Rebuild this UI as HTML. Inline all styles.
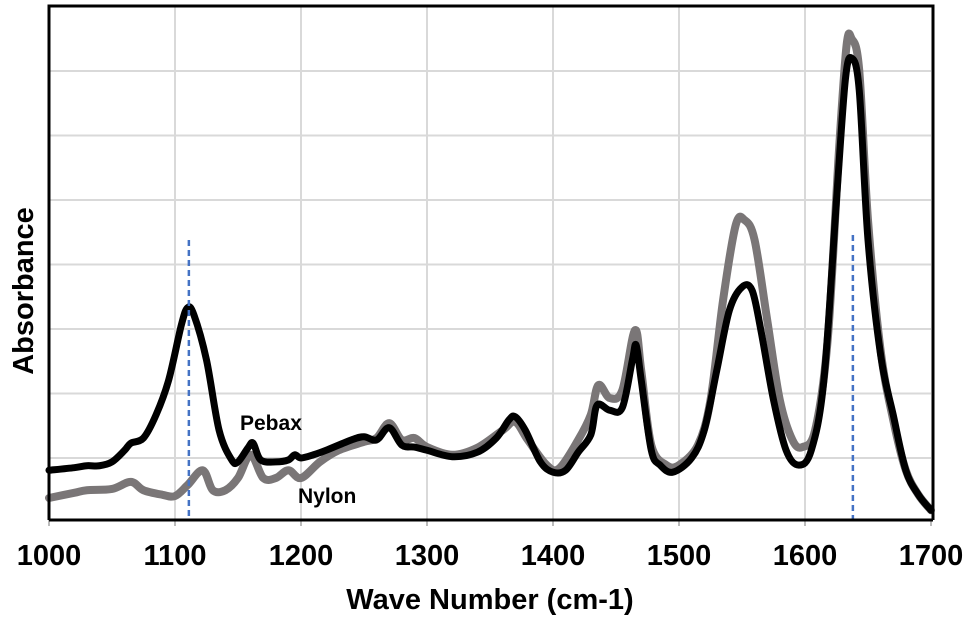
<!DOCTYPE html>
<html><head><meta charset="utf-8"><style>
body{margin:0;background:#fff}
svg{display:block;font-family:"Liberation Sans",Arial,sans-serif}
</style></head><body>
<svg id="chart" width="972" height="619" viewBox="0 0 972 619">
<g id="grid"></g>
<g id="series"></g>
<g id="axes"></g>
<text x="490" y="609" text-anchor="middle" font-size="29" font-weight="bold">Wave Number (cm-1)</text>
<text transform="translate(33,291) rotate(-90)" text-anchor="middle" font-size="29" font-weight="bold">Absorbance</text>
<text x="240" y="430" font-size="21" font-weight="bold">Pebax</text>
<text x="298" y="503" font-size="21" font-weight="bold">Nylon</text>
</svg>
<script>
const xTicks=[1000,1100,1200,1300,1400,1500,1600,1700];
const markerLines=[1111,1638];
const pebaxX=[1000,1020,1030,1040,1050,1060,1065,1075,1085,1095,1105,1110,1115,1125,1135,1145,1150,1158,1162,1168,1180,1190,1195,1200,1210,1220,1240,1250,1260,1270,1280,1290,1300,1320,1340,1355,1365,1370,1378,1390,1400,1410,1420,1430,1435,1445,1455,1463,1466,1470,1478,1485,1495,1510,1520,1530,1540,1550,1558,1565,1575,1585,1595,1605,1615,1625,1632,1637,1643,1650,1660,1670,1680,1690,1700];
const pebaxY=[0.81,0.85,0.88,0.88,0.94,1.12,1.23,1.31,1.67,2.21,3.06,3.33,3.22,2.52,1.43,0.97,0.94,1.16,1.23,0.97,0.94,0.97,1.05,1.0,1.05,1.12,1.28,1.33,1.28,1.47,1.2,1.17,1.12,1.02,1.09,1.31,1.59,1.64,1.43,0.94,0.78,0.81,1.09,1.36,1.82,1.74,1.78,2.52,2.75,2.21,1.12,0.89,0.78,1.0,1.43,2.36,3.29,3.65,3.6,2.98,1.9,1.12,0.89,1.12,2.21,5.0,6.86,7.2,6.71,4.38,2.6,1.67,0.81,0.43,0.19];
const nylonX=[1000,1020,1030,1050,1065,1075,1090,1100,1110,1122,1130,1140,1150,1160,1170,1180,1190,1200,1215,1230,1250,1260,1270,1280,1290,1300,1320,1340,1360,1370,1380,1395,1405,1420,1430,1436,1445,1455,1465,1470,1478,1490,1500,1515,1525,1535,1545,1552,1560,1570,1580,1590,1598,1608,1618,1627,1633,1637,1643,1650,1660,1670,1680,1690,1700];
const nylonY=[0.38,0.46,0.5,0.52,0.63,0.5,0.43,0.41,0.58,0.81,0.5,0.5,0.69,1.05,0.69,0.69,0.81,0.69,0.94,1.12,1.25,1.31,1.54,1.28,1.31,1.17,1.05,1.16,1.43,1.56,1.28,0.89,0.84,1.28,1.67,2.13,1.93,2.05,2.98,2.36,1.2,0.89,0.89,1.2,1.9,3.45,4.61,4.69,4.38,3.14,1.9,1.28,1.17,1.43,2.83,5.78,7.4,7.5,7.02,4.69,2.67,1.59,0.81,0.43,0.19];
const NS='http://www.w3.org/2000/svg';
const X0=49,X1=931,YB=522.5,GU=64.5;
const xs=v=>X0+(v-1000)/700*(X1-X0);
const ys=v=>YB-v*GU;
function mk(tag,attrs,parent){const e=document.createElementNS(NS,tag);for(const k in attrs)e.setAttribute(k,attrs[k]);parent.appendChild(e);return e;}
const grid=document.getElementById('grid'),ser=document.getElementById('series'),axes=document.getElementById('axes');
for(let k=1;k<=7;k++){const l=mk('line',{x1:X0,x2:X1,y1:ys(k),y2:ys(k),stroke:'#d9d9d9','stroke-width':2},grid);

}
xTicks.forEach((t,i)=>{if(i>0&&i<xTicks.length-1){const l=mk('line',{x1:xs(t),x2:xs(t),y1:6,y2:520,stroke:'#d9d9d9','stroke-width':2},grid);

}
const tx=mk('text',{x:xs(t),y:565,'text-anchor':'middle','font-size':29,'font-weight':'bold'},axes);tx.textContent=t;


const tk=mk('line',{x1:xs(t),x2:xs(t),y1:520,y2:526,stroke:'#bbb','stroke-width':2},axes);

});
function path(X,Y){const p=X.map((x,i)=>[xs(x),ys(Y[i])]);let d='M'+p[0][0]+','+p[0][1];
for(let i=0;i<p.length-1;i++){const a=p[Math.max(0,i-1)],b=p[i],c=p[i+1],e=p[Math.min(p.length-1,i+2)];
d+=' C'+(b[0]+(c[0]-a[0])/6)+','+(b[1]+(c[1]-a[1])/6)+' '+(c[0]-(e[0]-b[0])/6)+','+(c[1]-(e[1]-b[1])/6)+' '+c[0]+','+c[1];}return d;}
const ny=mk('path',{d:path(nylonX,nylonY),fill:'none',stroke:'#7a7677','stroke-width':8,'stroke-linejoin':'round','stroke-linecap':'round'},ser);


const pb=mk('path',{d:path(pebaxX,pebaxY),fill:'none',stroke:'#000','stroke-width':7,'stroke-linejoin':'round','stroke-linecap':'round'},ser);


markerLines.forEach((m,i)=>{const l=mk('line',{x1:xs(m),x2:xs(m),y1:i==0?240:235,y2:520,stroke:'#4472c4','stroke-width':2.5,'stroke-dasharray':'6,4'},ser);

});
const fr=mk('path',{d:'M'+X0+',520 L'+X0+',6 L'+(X1+2)+',6 L'+(X1+2)+',520',fill:'none',stroke:'#000','stroke-width':3},axes);


const xa=mk('line',{x1:X0,x2:X1+2,y1:520,y2:520,stroke:'#000','stroke-width':3},axes);


</script>
</body></html>
